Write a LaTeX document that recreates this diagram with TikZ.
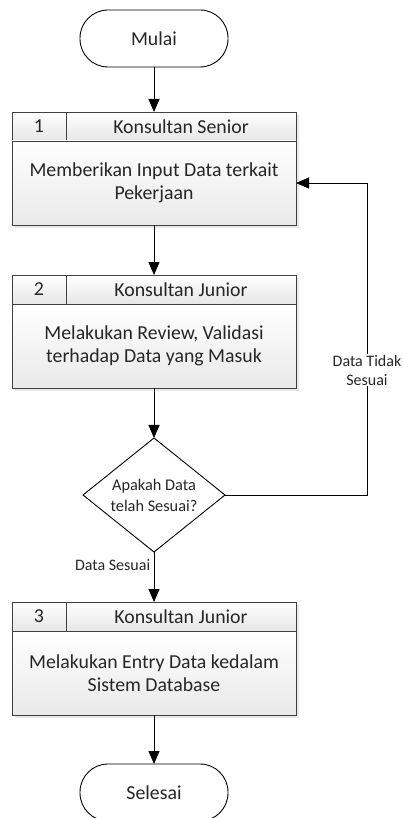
\documentclass[tikz,border=0pt]{standalone}
\usepackage{fontspec}
\setmainfont{Carlito}
\usetikzlibrary{arrows.meta,positioning,shapes.geometric,shadows}
\definecolor{framegray}{HTML}{404040}
\definecolor{headfill}{HTML}{E6E6E6}
\definecolor{bodybot}{HTML}{E9E9E9}
\definecolor{shadegray}{HTML}{D2D2D2}

\begin{document}
\begin{tikzpicture}[x=1pt,y=-1pt,
    every node/.style={font=\fontsize{19.8}{23}\selectfont,text=black!85},
    term/.style={draw,line width=0.9pt,fill=white,rounded corners=28pt,minimum width=148pt,minimum height=57pt,outer sep=0pt},
    hnum/.style={draw=framegray,line width=0.9pt,top color=white,bottom color=headfill,minimum width=54pt,minimum height=29pt,inner sep=0pt,outer sep=0pt,
      drop shadow={shadow xshift=3pt,shadow yshift=-3pt,fill=shadegray}},
    htitle/.style={hnum,minimum width=230pt},
    bodybox/.style={hnum,top color=white,bottom color=bodybot,minimum width=284pt,minimum height=84pt,align=center},
    decide/.style={draw,diamond,aspect=1.25,fill=white,line width=0.9pt,minimum width=142pt,minimum height=114pt,inner sep=0pt,outer sep=0pt,
      align=center,font=\fontsize{16.3}{21}\selectfont},
    lbl/.style={font=\fontsize{16}{19}\selectfont,align=center},
    arr/.style={-{Triangle[length=13pt,width=11pt]},line width=0.9pt}]
  \useasboundingbox (0,0) rectangle (403,818);

  \node[term] (mulai) at (154,38.5) {Mulai};

  % langkah 1
  \node[hnum,anchor=north west] (n1) at (12,112) {1};
  \node[htitle,right=0pt of n1] (h1) {Konsultan Senior};
  \node[bodybox,anchor=north west] (b1) at (n1.south west) {Memberikan Input Data terkait\\Pekerjaan};

  % langkah 2
  \node[hnum,anchor=north west] (n2) at (12,275) {2};
  \node[htitle,right=0pt of n2] (h2) {Konsultan Junior};
  \node[bodybox,anchor=north west] (b2) at (n2.south west) {Melakukan Review, Validasi\\terhadap Data yang Masuk};

  \node[decide] (cek) at (154,495) {Apakah Data\\telah Sesuai?};

  % langkah 3
  \node[hnum,anchor=north west] (n3) at (12,602) {3};
  \node[htitle,right=0pt of n3] (h3) {Konsultan Junior};
  \node[bodybox,anchor=north west] (b3) at (n3.south west) {Melakukan Entry Data kedalam\\Sistem Database};

  \node[term] (selesai) at (154,792.5) {Selesai};

  \draw[arr] (mulai) -- (mulai |- n1.north);
  \draw[arr] (b1) -- (b1 |- n2.north);
  \draw[arr] (b2) -- (cek);
  \draw[arr] (cek) -- (cek |- n3.north) node[pos=0.26,left,lbl] {Data Sesuai};
  \draw[arr] (cek.east) -- ++(142,0) |- (b1.east)
    node[pos=0.2,lbl,fill=white,inner sep=1pt] {Data Tidak\\Sesuai};
  \draw[arr] (b3) -- (selesai);
\end{tikzpicture}
\end{document}
